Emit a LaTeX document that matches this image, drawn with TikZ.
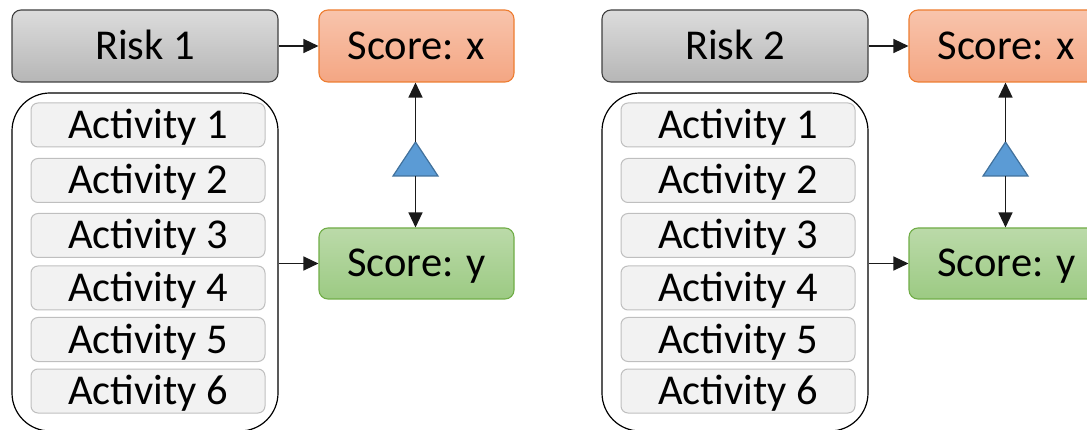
\documentclass[tikz,border=0pt]{standalone}
\usepackage{fontspec}
\setmainfont{Carlito}
\usetikzlibrary{arrows.meta}
\definecolor{risktop}{HTML}{DCDCDC}
\definecolor{riskbot}{HTML}{B6B6B6}
\definecolor{riskdraw}{HTML}{404040}
\definecolor{xtop}{HTML}{F8C4AC}
\definecolor{xbot}{HTML}{F4A683}
\definecolor{xdraw}{HTML}{ED7D31}
\definecolor{ytop}{HTML}{BBDAA9}
\definecolor{ybot}{HTML}{9CCA83}
\definecolor{ydraw}{HTML}{70AD47}
\definecolor{actfill}{HTML}{F2F2F2}
\definecolor{actdraw}{HTML}{BFBFBF}
\definecolor{trifill}{HTML}{5B9BD5}
\definecolor{tridraw}{HTML}{41719C}
\definecolor{linegray}{HTML}{1A1A1A}
\begin{document}
\begin{tikzpicture}[x=1pt,y=-1pt,
  base/.style={inner sep=0pt, text height=27pt, text depth=0pt,
    font=\fontsize{42.5}{50}\selectfont, line width=1.1pt},
  riskbox/.style={base, rounded corners=9pt, draw=riskdraw, top color=risktop, bottom color=riskbot,
    minimum width=266pt, minimum height=72pt},
  scorex/.style={base, rounded corners=9pt, draw=xdraw, top color=xtop, bottom color=xbot,
    minimum width=195pt, minimum height=72pt},
  scorey/.style={base, rounded corners=9pt, draw=ydraw, top color=ytop, bottom color=ybot,
    minimum width=195pt, minimum height=71pt},
  contbox/.style={draw=black, line width=1.2pt, rounded corners=38pt, inner sep=0pt,
    minimum width=266pt, minimum height=338pt},
  actbox/.style={base, rounded corners=7pt, draw=actdraw, fill=actfill, line width=1pt,
    minimum width=234pt, minimum height=44pt},
  conn/.style={draw=linegray, line width=1.3pt, -{Triangle[length=15pt,width=14pt]}},
  tri/.style={fill=trifill, draw=tridraw, line width=1.2pt, line join=miter}
]
\path[use as bounding box, clip] (0,0) rectangle (1087,430);
\foreach \g/\dx in {1/0,2/590}{
  \begin{scope}[xshift=\dx pt]
    \node[riskbox] (risk\g) at (145,46) {Risk \g};
    \node[scorex] (sx\g) at (416.5,46) {Score: x};
    \node[contbox] (cont\g) at (145,262) {};
    \node[scorey] (sy\g) at (416.5,263.5) {Score: y};
    \foreach \i/\yy in {1/125,2/180.5,3/235.5,4/288,5/339.5,6/391}{
      \node[actbox] (act\g\i) at (148,\yy) {Activity \i};
    }
    \coordinate (apex\g) at (415.5,142);
    \coordinate (bl\g) at (393,176);
    \coordinate (br\g) at (438,176);
    \coordinate (base\g) at (415.5,176);
    \draw[tri] (bl\g) -- (apex\g) -- (br\g) -- cycle;
    \draw[conn] (risk\g) -- (sx\g);
    \draw[conn] (cont\g.east |- sy\g.west) -- (sy\g.west);
    \draw[conn] (apex\g) -- (apex\g |- sx\g.south);
    \draw[conn] (base\g) -- (base\g |- sy\g.north);
  \end{scope}
}
\end{tikzpicture}
\end{document}
